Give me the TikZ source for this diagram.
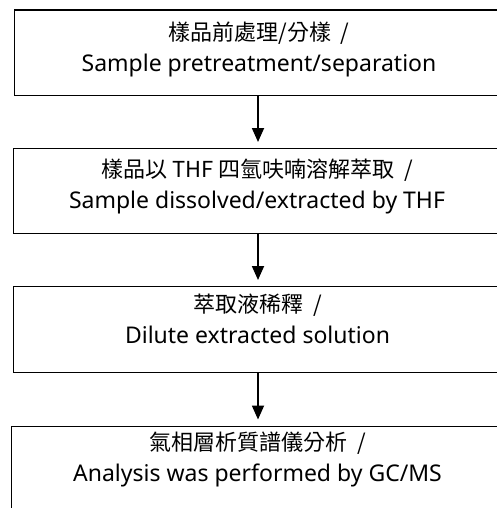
\documentclass[tikz,border=0pt]{standalone}
\usepackage{fontspec}
\setmainfont{Noto Sans}
\newfontfamily\cjk{Noto Sans CJK TC}
\usetikzlibrary{arrows.meta}
\begin{document}
\begin{tikzpicture}[x=1pt,y=-1pt,
  stepbox/.style={draw, line width=1.4pt, inner sep=0pt, anchor=north west, minimum width=510pt},
  label text/.style={align=center, inner sep=0pt, font=\fontsize{23}{31}\selectfont},
  arr/.style={line width=1.8pt, -{Triangle[length=14pt,width=12pt]}, shorten >=6pt}]
\useasboundingbox (0,0) rectangle (497,508);
\clip (0,0) rectangle (497,508);
\node[stepbox, minimum height=85.5pt] (b1) at (13.5,9.5) {};
\node[stepbox, minimum height=85pt] (b2) at (12.5,148) {};
\node[stepbox, minimum height=86pt] (b3) at (12.5,286) {};
\node[stepbox, minimum height=100pt] (b4) at (11,425.5) {};
\node[label text] (t1) at (259,49) {{\cjk\fontsize{22}{31}\selectfont 樣品前處理/分樣\ \ /}\\Sample pretreatment/separation};
\node[label text] (t2) at (257,186) {{\cjk\fontsize{22}{31}\selectfont 樣品以 THF 四氫呋喃溶解萃取\ \ /}\\Sample dissolved/extracted by THF};
\node[label text] (t3) at (257.5,318.5) {{\cjk\fontsize{22}{31}\selectfont 萃取液稀釋\ \ /}\\Dilute extracted solution};
\node[label text] (t4) at (257.5,459) {{\cjk\fontsize{22}{31}\selectfont 氣相層析質譜儀分析\ \ /}\\Analysis was performed by GC/MS};
\coordinate (ax) at (258,0);
\draw[arr] (b1.south -| ax) -- (b2.north -| ax);
\draw[arr] (b2.south -| ax) -- (b3.north -| ax);
\draw[arr] (b3.south -| ax) -- (b4.north -| ax);
\end{tikzpicture}
\end{document}
